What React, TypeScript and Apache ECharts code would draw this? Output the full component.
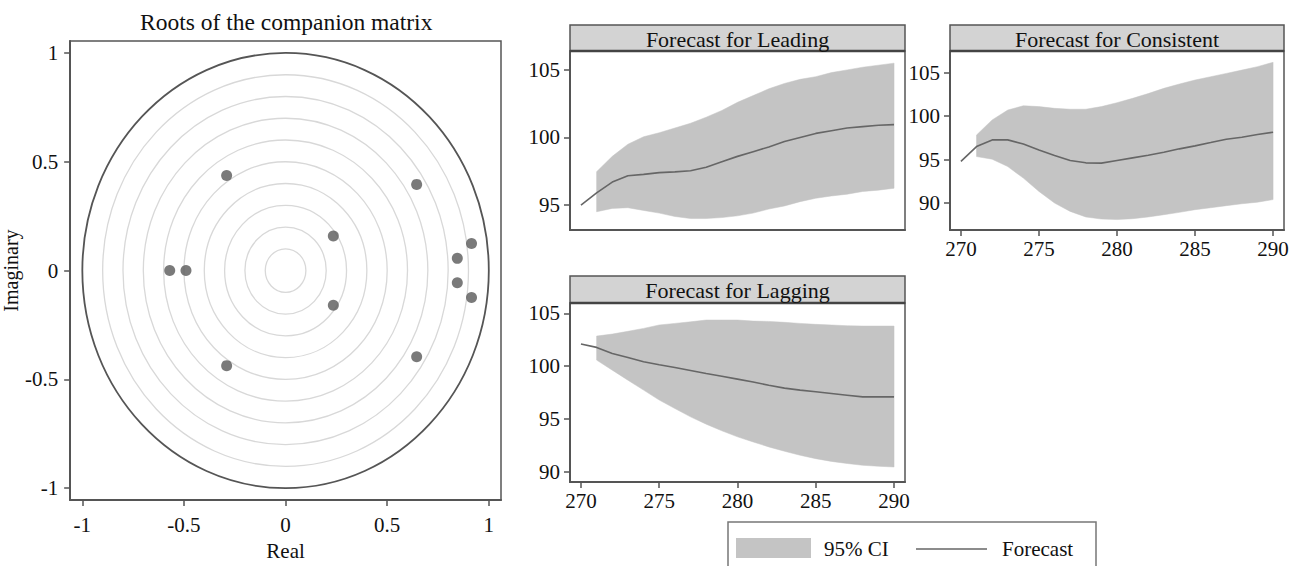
import React, { useEffect, useRef } from "react";
import * as echarts from "echarts";

// ---------- Roots of the companion matrix ----------
const rootReal = [-0.29, -0.29, 0.645, 0.645, 0.235, 0.235, 0.915, 0.915, 0.845, 0.845, -0.57, -0.49];
const rootImag = [0.437, -0.437, 0.396, -0.396, 0.159, -0.159, 0.124, -0.124, 0.056, -0.056, 0, 0];
const circleRadii = [0.1, 0.2, 0.3, 0.4, 0.5, 0.6, 0.7, 0.8, 0.9, 1.0];
const rootTicks = [-1, -0.5, 0, 0.5, 1];

// ---------- Forecasts ----------
const years = [270, 271, 272, 273, 274, 275, 276, 277, 278, 279, 280, 281, 282, 283, 284, 285, 286, 287, 288, 289, 290];
const ciYears = [271, 272, 273, 274, 275, 276, 277, 278, 279, 280, 281, 282, 283, 284, 285, 286, 287, 288, 289, 290];
const yearTicks = [270, 275, 280, 285, 290];

const leadingForecast = [95.0, 95.9, 96.7, 97.17, 97.27, 97.4, 97.45, 97.54, 97.8, 98.2, 98.6, 98.95, 99.3, 99.7, 100.0, 100.3, 100.5, 100.7, 100.8, 100.9, 100.95];
const leadingUpper = [97.47, 98.6, 99.5, 100.05, 100.35, 100.7, 101.05, 101.5, 102.0, 102.6, 103.1, 103.6, 104.0, 104.3, 104.5, 104.8, 105.0, 105.2, 105.35, 105.5];
const leadingLower = [94.5, 94.75, 94.8, 94.6, 94.4, 94.15, 94.0, 94.0, 94.07, 94.2, 94.4, 94.7, 94.93, 95.25, 95.5, 95.67, 95.8, 96.0, 96.1, 96.24];
const leadingTicks = [95, 100, 105];

const consistentForecast = [94.8, 96.5, 97.27, 97.27, 96.8, 96.1, 95.47, 94.9, 94.63, 94.6, 94.9, 95.2, 95.5, 95.85, 96.24, 96.58, 96.96, 97.35, 97.58, 97.9, 98.15];
const consistentUpper = [97.84, 99.57, 100.7, 101.2, 101.1, 100.9, 100.8, 100.8, 101.1, 101.55, 102.05, 102.6, 103.2, 103.7, 104.16, 104.54, 104.92, 105.3, 105.7, 106.2];
const consistentLower = [95.35, 95.05, 94.2, 92.87, 91.34, 90.0, 89.04, 88.4, 88.16, 88.1, 88.2, 88.4, 88.66, 88.93, 89.24, 89.46, 89.7, 89.92, 90.1, 90.4];
const consistentTicks = [90, 95, 100, 105];

const laggingForecast = [102.1, 101.78, 101.2, 100.83, 100.42, 100.14, 99.88, 99.6, 99.32, 99.06, 98.78, 98.5, 98.2, 97.93, 97.74, 97.58, 97.42, 97.26, 97.1, 97.1, 97.1];
const laggingUpper = [102.85, 103.04, 103.3, 103.58, 103.9, 104.05, 104.2, 104.37, 104.37, 104.37, 104.27, 104.24, 104.15, 104.05, 103.96, 103.9, 103.83, 103.8, 103.8, 103.8];
const laggingLower = [100.58, 99.63, 98.68, 97.74, 96.8, 96.0, 95.21, 94.52, 93.89, 93.32, 92.84, 92.37, 91.96, 91.58, 91.26, 91.0, 90.8, 90.63, 90.54, 90.47];
const laggingTicks = [90, 95, 100, 105];

const FONT = "'Liberation Serif', 'Times New Roman', serif";
const DARK = "#555555";
const BAND = "#c4c4c4";
const LINE = "#666666";
const HEADER_BG = "#d3d3d3";

function valueAxis(gridIndex: number, min: number, max: number, ticks: number[], showLabels: boolean, margin: number, extra: any = {}) {
  return {
    type: "value",
    gridIndex,
    min,
    max,
    splitLine: { show: false },
    axisLine: { show: true, onZero: false, lineStyle: { color: DARK, width: 2 } },
    axisTick: { show: showLabels, length: 6, customValues: ticks, lineStyle: { color: DARK, width: 1.5 } },
    axisLabel: { show: showLabels, customValues: ticks, margin, fontFamily: FONT, fontSize: 21, color: "#111" },
    ...extra,
  };
}

function bandSeries(axis: number, lower: number[], upper: number[], forecast: number[]) {
  const band = ciYears.map((y, i) => [y, lower[i], upper[i]]);
  return [
    {
      type: "custom",
      name: "95% CI",
      xAxisIndex: axis,
      yAxisIndex: axis,
      silent: true,
      z: 2,
      data: band,
      encode: { x: 0, y: [1, 2] },
      renderItem: (params: any, api: any) => {
        if (params.dataIndex !== 0) return null;
        const top = band.map((d) => api.coord([d[0], d[2]]));
        const bottom = band.map((d) => api.coord([d[0], d[1]])).reverse();
        return {
          type: "polygon",
          shape: { points: top.concat(bottom) },
          style: { fill: BAND, stroke: BAND, lineWidth: 0.5 },
        };
      },
    },
    {
      type: "line",
      name: "Forecast",
      xAxisIndex: axis,
      yAxisIndex: axis,
      symbol: "none",
      z: 5,
      lineStyle: { color: LINE, width: 1.6 },
      data: years.map((y, i) => [y, forecast[i]]),
    },
  ];
}

function header(x: number, y: number, w: number, h: number, text: string) {
  return [
    {
      type: "rect",
      shape: { x, y, width: w, height: h },
      style: { fill: HEADER_BG, stroke: DARK, lineWidth: 1.5 },
      z: 10,
    },
    {
      type: "line",
      shape: { x1: x, y1: y + h, x2: x + w, y2: y + h },
      style: { stroke: "#444", lineWidth: 2.5 },
      z: 11,
    },
    {
      type: "text",
      x: x + w / 2,
      y: y + h / 2 + 1,
      style: { text, fontFamily: FONT, fontSize: 22, fill: "#111", align: "center", verticalAlign: "middle" },
      z: 12,
    },
  ];
}

export default function App() {
  const ref = useRef<HTMLDivElement>(null);

  useEffect(() => {
    document.body.style.margin = "0";
    if (!ref.current) return;
    const chart = echarts.init(ref.current, undefined, { renderer: "svg" });

    const grids = [
      { left: 64, top: 41, width: 437, height: 463 },
      { left: 570, top: 51, width: 335, height: 179 },
      { left: 950, top: 51, width: 334, height: 179 },
      { left: 570, top: 303, width: 335, height: 179 },
    ].map((g) => ({ ...g, show: true, borderColor: DARK, borderWidth: 1.5, backgroundColor: "#fff" }));

    const option: any = {
      animation: false,
      backgroundColor: "#ffffff",
      textStyle: { fontFamily: FONT },
      title: {
        text: "Roots of the companion matrix",
        left: 135,
        top: 5,
        textStyle: { fontFamily: FONT, fontSize: 23.5, fontWeight: "normal", color: "#111" },
      },
      grid: grids,
      xAxis: [
        valueAxis(0, -1.06, 1.06, rootTicks, true, 14, {
          name: "Real",
          nameLocation: "middle",
          nameGap: 33,
          nameTextStyle: { fontFamily: FONT, fontSize: 21, color: "#111" },
        }),
        valueAxis(1, 269.3, 290.7, yearTicks, false, 8),
        valueAxis(2, 269.3, 290.7, yearTicks, true, 8),
        valueAxis(3, 269.3, 290.7, yearTicks, true, 8),
      ],
      yAxis: [
        valueAxis(0, -1.055, 1.055, rootTicks, true, 12, {
          name: "Imaginary",
          nameLocation: "middle",
          nameGap: 36,
          nameRotate: 90,
          nameTextStyle: { fontFamily: FONT, fontSize: 20, color: "#111" },
        }),
        valueAxis(1, 93.15, 106.4, leadingTicks, true, 10),
        valueAxis(2, 86.9, 107.5, consistentTicks, true, 10),
        valueAxis(3, 89.05, 105.98, laggingTicks, true, 10),
      ],
      series: [
        {
          type: "custom",
          name: "circles",
          xAxisIndex: 0,
          yAxisIndex: 0,
          silent: true,
          data: circleRadii.map((r) => [r, 0]),
          encode: { x: 0, y: 1 },
          renderItem: (_params: any, api: any) => {
            const r = api.value(0);
            const c = api.coord([0, 0]);
            const s = api.size([r, r]);
            const outer = r >= 1;
            return {
              type: "ellipse",
              shape: { cx: c[0], cy: c[1], rx: s[0], ry: s[1] },
              style: { fill: "none", stroke: outer ? DARK : "#d8d8d8", lineWidth: outer ? 1.8 : 1.3 },
            };
          },
        },
        {
          type: "scatter",
          name: "roots",
          xAxisIndex: 0,
          yAxisIndex: 0,
          symbolSize: 11,
          itemStyle: { color: "#595959" },
          z: 5,
          data: rootReal.map((re, i) => [re, rootImag[i]]),
        },
        ...bandSeries(1, leadingLower, leadingUpper, leadingForecast),
        ...bandSeries(2, consistentLower, consistentUpper, consistentForecast),
        ...bandSeries(3, laggingLower, laggingUpper, laggingForecast),
      ],
      graphic: [
        ...header(570, 25, 335, 26, "Forecast for Leading"),
        ...header(950, 25, 334, 26, "Forecast for Consistent"),
        ...header(570, 276, 335, 27, "Forecast for Lagging"),
        {
          type: "rect",
          shape: { x: 728, y: 522, width: 368, height: 60 },
          style: { fill: "#fff", stroke: "#777", lineWidth: 1.5 },
          z: 10,
        },
        {
          type: "rect",
          shape: { x: 736, y: 538, width: 75, height: 20 },
          style: { fill: BAND },
          z: 11,
        },
        {
          type: "text",
          x: 824,
          y: 549,
          style: { text: "95% CI", fontFamily: FONT, fontSize: 21, fill: "#111", align: "left", verticalAlign: "middle" },
          z: 11,
        },
        {
          type: "line",
          shape: { x1: 916, y1: 549, x2: 987, y2: 549 },
          style: { stroke: LINE, lineWidth: 1.6 },
          z: 11,
        },
        {
          type: "text",
          x: 1002,
          y: 549,
          style: { text: "Forecast", fontFamily: FONT, fontSize: 21, fill: "#111", align: "left", verticalAlign: "middle" },
          z: 11,
        },
      ],
    };

    chart.setOption(option);
    return () => chart.dispose();
  }, []);

  return <div ref={ref} style={{ width: 1300, height: 566 }} />;
}
